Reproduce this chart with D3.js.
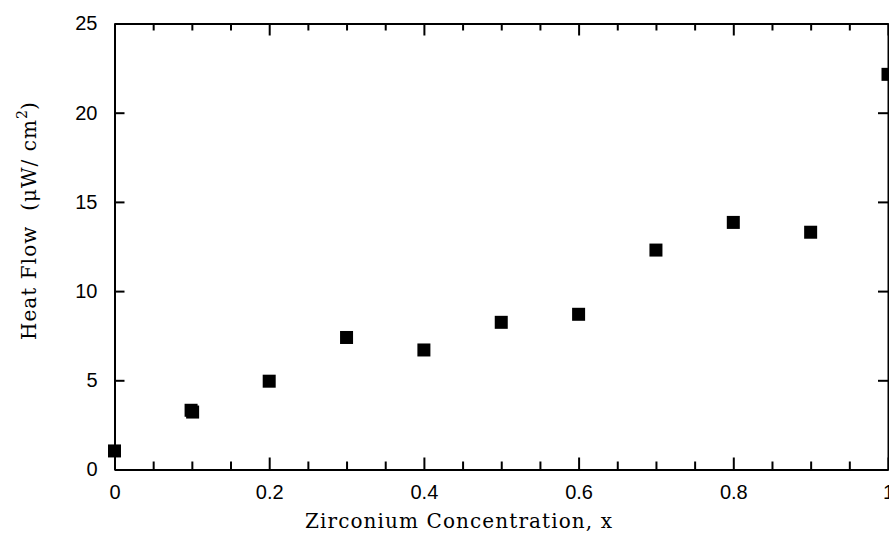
<!DOCTYPE html>
<html lang="en">
<head>
    <meta charset="UTF-8">
    <title>Heat Flow vs Zirconium Concentration</title>
    <script src="https://cdnjs.cloudflare.com/ajax/libs/d3/7.8.5/d3.min.js"></script>
    <style>
        body { margin: 0; background: #fff; }
        .tick text { font-family: "Liberation Sans", Arial, sans-serif; font-size: 20px; fill: #000; }
        .axis path.domain { stroke: #000; stroke-width: 2px; }
        .axis line { stroke: #000; stroke-width: 2px; }
        .title { font-family: "DejaVu Serif", serif; font-size: 20px; fill: #000; white-space: pre; }
        .point { fill: #000; }
    </style>
</head>
<body>
    <div id="wrapper"></div>
    <script>
        // data
        const concentration = [0, 0.099, 0.101, 0.2, 0.3, 0.4, 0.5, 0.6, 0.7, 0.8, 0.9, 1.0]
        const heatFlow      = [1.04, 3.32, 3.22, 4.95, 7.4, 6.7, 8.25, 8.7, 12.3, 13.85, 13.3, 22.15]
        const xTickValues = [0, 0.2, 0.4, 0.6, 0.8, 1]
        const xMinorTicks = [0.05, 0.1, 0.15, 0.25, 0.3, 0.35, 0.45, 0.5, 0.55, 0.65, 0.7, 0.75, 0.85, 0.9, 0.95]
        const yTickValues = [0, 5, 10, 15, 20, 25]

        const dataset = concentration.map((x, i) => ({ x, y: heatFlow[i] }))

        const width = 889
        const height = 535
        const plot = { left: 114.5, right: 888, top: 23.5, bottom: 469.5 }

        const svg = d3.select('#wrapper')
            .append('svg')
                .attr('width', width)
                .attr('height', height)

        const xScale = d3.scaleLinear()
            .domain([0, 1])
            .range([plot.left, plot.right])

        const yScale = d3.scaleLinear()
            .domain([0, 25])
            .range([plot.bottom, plot.top])

        const fmtX = d => d === 0 ? '0' : d === 1 ? '1' : d3.format('.1f')(d)

        // bottom axis: major + minor ticks pointing in
        svg.append('g')
            .attr('class', 'axis')
            .attr('transform', `translate(0,${plot.bottom})`)
            .call(d3.axisBottom(xScale).tickValues(xTickValues).tickFormat(fmtX)
                .tickSizeInner(-12).tickSizeOuter(0).tickPadding(15))
        svg.append('g')
            .attr('class', 'axis minor')
            .attr('transform', `translate(0,${plot.bottom})`)
            .call(d3.axisBottom(xScale).tickValues(xMinorTicks).tickFormat('')
                .tickSizeInner(-8).tickSizeOuter(0))

        // top axis
        svg.append('g')
            .attr('class', 'axis')
            .attr('transform', `translate(0,${plot.top})`)
            .call(d3.axisTop(xScale).tickValues(xTickValues).tickFormat('')
                .tickSizeInner(-12).tickSizeOuter(0))
        svg.append('g')
            .attr('class', 'axis minor')
            .attr('transform', `translate(0,${plot.top})`)
            .call(d3.axisTop(xScale).tickValues(xMinorTicks).tickFormat('')
                .tickSizeInner(-7).tickSizeOuter(0))

        // left axis
        svg.append('g')
            .attr('class', 'axis')
            .attr('transform', `translate(${plot.left},0)`)
            .call(d3.axisLeft(yScale).tickValues(yTickValues).tickFormat(d3.format('d'))
                .tickSizeInner(-10).tickSizeOuter(0).tickPadding(17))

        // right axis
        svg.append('g')
            .attr('class', 'axis')
            .attr('transform', `translate(${plot.right},0)`)
            .call(d3.axisRight(yScale).tickValues(yTickValues).tickFormat('')
                .tickSizeInner(-10).tickSizeOuter(0))

        // points
        const size = 13
        svg.append('g')
            .selectAll('rect')
            .data(dataset)
            .join('rect')
                .attr('class', 'point')
                .attr('x', d => xScale(d.x) - size / 2)
                .attr('y', d => yScale(d.y) - size / 2)
                .attr('width', size)
                .attr('height', size)

        // axis titles
        svg.append('text')
            .attr('class', 'title')
            .attr('x', 305)
            .attr('y', 528)
            .attr('textLength', 307)
            .attr('lengthAdjust', 'spacing')
            .text('Zirconium Concentration, x')

        const yTitle = svg.append('text')
            .attr('class', 'title')
            .attr('transform', 'translate(36,340) rotate(-90)')
        yTitle.append('tspan').attr('textLength', 220).attr('lengthAdjust', 'spacing')
            .text('Heat Flow  (\u03bcW/ cm')
        yTitle.append('tspan').attr('dy', -9).style('font-size', '14px').text('2')
        yTitle.append('tspan').attr('dy', 9).text(')')
    </script>
</body>
</html>
